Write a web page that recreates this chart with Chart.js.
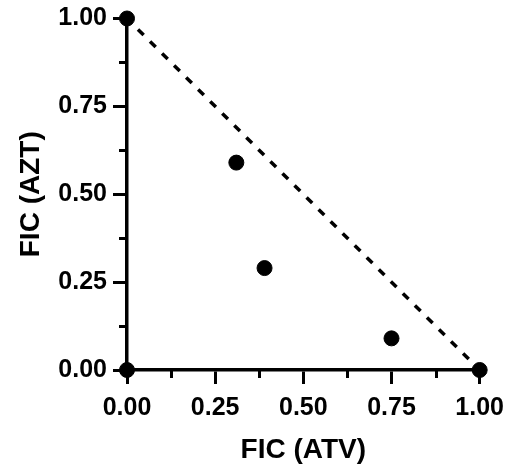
<!DOCTYPE html>
<html>
<head>
<meta charset="utf-8">
<script src="https://cdn.jsdelivr.net/npm/chart.js@4.4.0/dist/chart.umd.min.js"></script>
<style>
  html, body { margin: 0; padding: 0; background: #fff; }
  #wrap { width: 513px; height: 472px; }
</style>
</head>
<body>
<div id="wrap"><canvas id="c" width="513" height="472"></canvas></div>
<script>
const xValues = [0, 0, 1, 0.31, 0.39, 0.75];
const yValues = [1, 0, 0, 0.59, 0.29, 0.09];
const lineX = [0, 1];
const lineY = [1, 0];
const majorTicks = [0, 0.25, 0.5, 0.75, 1];
const minorTicks = [0.125, 0.375, 0.625, 0.875];
const xTitle = 'FIC (ATV)';
const yTitle = 'FIC (AZT)';

const FONT = "'Liberation Sans', Arial, sans-serif";

const minorTickPlugin = {
  id: 'minorTicks',
  beforeDatasetsDraw(chart) {
    const ctx = chart.ctx;
    const xs = chart.scales.x, ys = chart.scales.y;
    ctx.save();
    ctx.strokeStyle = '#000';
    ctx.lineWidth = 3;
    ctx.beginPath();
    minorTicks.forEach(v => {
      const px = Math.round(xs.getPixelForValue(v)) + 0.5;
      ctx.moveTo(px, xs.top);
      ctx.lineTo(px, xs.top + 8);
      const py = Math.round(ys.getPixelForValue(v)) + 0.5;
      ctx.moveTo(ys.right, py);
      ctx.lineTo(ys.right - 8, py);
    });
    ctx.stroke();
    ctx.restore();
  }
};

new Chart(document.getElementById('c'), {
  type: 'scatter',
  data: {
    datasets: [
      {
        type: 'line',
        data: lineX.map((x, i) => ({x, y: lineY[i]})),
        borderColor: '#000',
        borderWidth: 3.5,
        borderDash: [8, 9],
        borderDashOffset: 1.5,
        pointRadius: 0,
        fill: false,
        clip: false,
        order: 2
      },
      {
        data: xValues.map((x, i) => ({x, y: yValues[i]})),
        backgroundColor: '#000',
        borderColor: '#000',
        pointRadius: 7.5,
        pointHoverRadius: 7.5,
        clip: false,
        order: 1
      }
    ]
  },
  options: {
    responsive: false,
    animation: false,
    events: [],
    layout: { padding: { left: 0, top: 18, right: 33, bottom: 0 } },
    plugins: { legend: { display: false }, tooltip: { enabled: false } },
    scales: {
      x: {
        type: 'linear',
        min: 0, max: 1,
        afterBuildTicks(scale) { scale.ticks = majorTicks.map(v => ({value: v})); },
        afterFit(scale) { scale.height = 102; },
        border: { display: true, color: '#000', width: 3.5 },
        grid: { display: true, drawOnChartArea: false, drawTicks: true, tickLength: 14, color: '#000', lineWidth: 3 },
        ticks: {
          color: '#000', padding: 9, maxRotation: 0, autoSkip: false,
          font: { family: FONT, size: 25, weight: 'bold' },
          callback: v => Number(v).toFixed(2)
        },
        title: {
          display: true, text: xTitle, color: '#000',
          font: { family: FONT, size: 28, weight: 'bold' },
          padding: { top: 0, bottom: 5 }
        }
      },
      y: {
        type: 'linear',
        min: 0, max: 1,
        afterBuildTicks(scale) { scale.ticks = majorTicks.map(v => ({value: v})); },
        afterFit(scale) { scale.width = 127; },
        border: { display: true, color: '#000', width: 3.5 },
        grid: { display: true, drawOnChartArea: false, drawTicks: true, tickLength: 14, color: '#000', lineWidth: 3 },
        ticks: {
          color: '#000', padding: 6, autoSkip: false,
          font: { family: FONT, size: 25, weight: 'bold', lineHeight: 1 },
          callback: v => Number(v).toFixed(2)
        },
        title: {
          display: true, text: yTitle, color: '#000',
          font: { family: FONT, size: 28, weight: 'bold' },
          padding: { top: 14, bottom: 0 }
        }
      }
    }
  },
  plugins: [minorTickPlugin]
});
</script>
</body>
</html>
